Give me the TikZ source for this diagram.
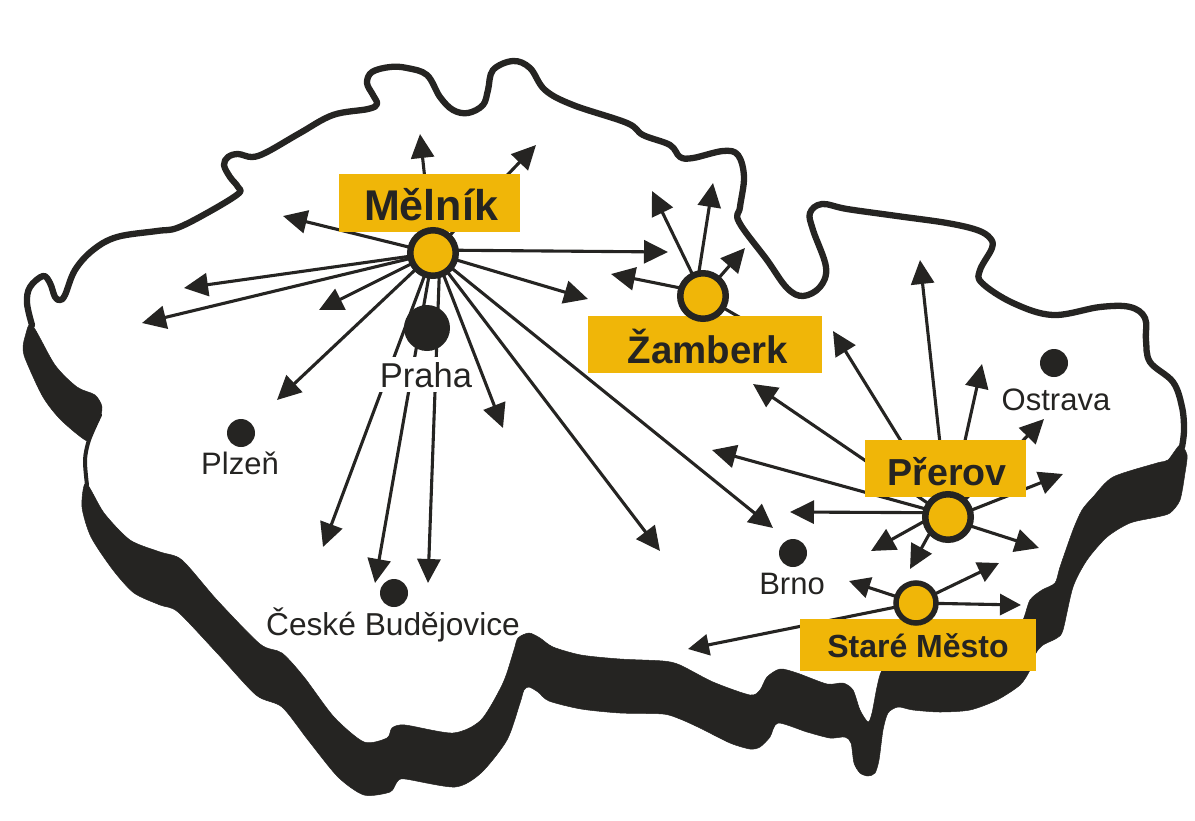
\documentclass[tikz,border=0pt]{standalone}
\usepackage{fontspec}
\setmainfont{Liberation Sans}
\usetikzlibrary{arrows.meta}
\definecolor{ink}{HTML}{252422}
\definecolor{gold}{HTML}{F0B608}
\pgfdeclarelayer{lo}
\pgfdeclarelayer{mid}
\pgfsetlayers{lo,mid,main}
\tikzset{
  lobe/.style={fill=ink,draw=ink,line width=0.5pt,line join=round},
  border/.style={draw=ink,line width=6.3pt,line join=round,line cap=round},
  arw/.style={draw=ink,line width=3.1pt,-{Triangle[length=24pt,width=23pt,color=ink]}},
  arws/.style={draw=ink,line width=3.1pt,-{Triangle[length=21pt,width=21pt,color=ink]}},
  hub/.style={circle,draw=ink,fill=gold,line width=6.5pt,minimum size=45.5pt,inner sep=0pt,outer sep=0pt},
  hubs/.style={circle,draw=ink,fill=gold,line width=5.5pt,minimum size=40pt,inner sep=0pt,outer sep=0pt},
  city/.style={circle,fill=ink,minimum size=28pt,inner sep=0pt},
  lab/.style={anchor=base,text=ink,inner sep=0pt,font=\fontsize{31}{36}\selectfont},
  plate/.style={fill=gold,draw=none,inner sep=0pt,anchor=north west},
  plab/.style={anchor=base,text=ink,inner sep=0pt,font=\bfseries\fontsize{#1}{#1}\selectfont}
}
\begin{document}
\begin{tikzpicture}[x=1pt,y=-1pt]
\useasboundingbox (0,0) rectangle (1195,820);
% shadow
\begin{pgfonlayer}{lo}
\path[lobe] plot[smooth cycle,tension=0.5] coordinates {
 (32,325)(55,365)(77,387)(95,395)(102,407)(99,420)(92,432)(87,441)(61,420)(43,397)(27,363)(23,350)(25,337)};
\path[lobe] plot[smooth cycle,tension=0.45] coordinates {
 (86,483)(104,513)(130,540)(160,552)(182,560)(217,600)(260,644)(282,653)(304,677)(334,717)(364,742)(387,738)(392,728)(405,725)(453,733)(481,720)(503,683)(514,650)(518,638)(529,633)(540,638)(553,647)(581,655)(620,659)(663,661)(680,665)(713,682)(750,695)(760,690)(767,677)(780,669)(797,673)(827,684)(843,683)(853,690)(860,710)(868,722)(872,713)(877,687)(882,670)(900,640)(1010,640)(1023,620)(1030,600)(1042,590)(1055,583)(1060,567)(1073,530)(1082,510)(1093,497)(1113,477)(1157,463)(1168,460)(1180,445)(1187,455)(1185,473)(1180,500)(1170,513)(1157,517)(1130,523)(1107,537)(1087,560)(1073,587)(1063,630)(1057,638)(1043,645)(1036,653)(1030,670)(1020,685)(997,700)(970,710)(940,712)(913,710)(898,707)(888,713)(883,730)(879,760)(875,773)(868,776)(860,773)(854,763)(851,743)(845,737)(830,738)(807,732)(778,723)(770,737)(760,747)(750,749)(730,743)(700,728)(680,719)(663,714)(620,713)(581,709)(549,701)(538,692)(529,687)(524,690)(520,703)(507,740)(481,773)(455,787)(405,779)(397,782)(390,792)(364,795)(338,777)(308,740)(282,707)(256,695)(217,653)(178,612)(160,605)(134,593)(113,570)(91,537)(82,507)};
% outline
\path[border,line width=4pt] plot[smooth,tension=0.5] coordinates {
 (100,415)(89,440)(85,460)(87,485)};
\path[border] plot[smooth,tension=0.6] coordinates {
 (32,325)(27,303)(30,287)(43,276)(50,283)(55,297)(60,300)(65,295)(75,270)(93,250)(117,237)(157,231)(177,228)(207,213)(238,194)(238,187)(230,177)(224,165)(228,157)(238,154)(252,157)(267,152)(300,133)(333,115)(368,109)(377,104)(373,95)(367,83)(372,72)(390,67)(407,68)(427,75)(440,97)(453,110)(468,113)(483,105)(488,90)(493,70)(513,61)(530,68)(545,90)(573,105)(627,123)(643,135)(670,145)(680,157)(693,158)(723,151)(738,155)(744,177)(740,207)(739,222)(767,260)(787,288)(803,296)(820,287)(826,267)(813,230)(810,213)(822,204)(847,209)(897,216)(947,223)(977,230)(990,238)(992,248)(980,270)(982,283)(1013,303)(1053,315)(1100,307)(1130,307)(1145,318)(1146,340)(1150,362)(1173,382)(1182,407)(1184,430)(1182,447)};
\end{pgfonlayer}
% hubs
\node[hub] (melnik) at (433,253) {};
\node[hub] (zamberk) at (703,296) {};
\node[hub] (prerov) at (948,517) {};
\node[hubs] (stare) at (916,603) {};
% free ends
\foreach \n/\p in {m1/{420,134},m2/{536,145},m3/{668,252},m4/{588,299},m5/{283,216},m6/{184,288},m7/{142,323},m8/{319,310},m9/{277,400},m10/{323,547},m11/{375,583},m12/{428,583},m13/{503,428},m14/{660,551},m15/{773,528},
 z1/{652,191},z2/{713,183},z3/{745,248},z4/{611,274},z5/{770,335},
 p1/{833,331},p2/{920,260},p3/{982,364},p4/{1044,419},p5/{1063,474},p6/{753,384},p7/{712,450},p8/{790,512},p9/{871,551},p10/{910,569},p11/{1039,548},
 s1/{999,563},s2/{1021,605},s3/{849,581},s4/{688,649}}
 {\coordinate (\n) at (\p);}
\begin{pgfonlayer}{lo}
\foreach \t in {m1,m2,m4,m5,m6,m7,m8,m9,m10,m11,m14,m15}
  \draw[arw] (melnik) -- (\t);
\draw[arw] (melnik.7) -- (m3);
\draw[arw] (melnik.286) -- (m12);
\draw[arw] (melnik.296) -- (m13);
\foreach \t in {z1,z3}
  \draw[arw] (zamberk) -- (\t);
\draw[arw] (zamberk.101) -- (z2);
\draw[arw] (zamberk.160) -- (z4);
\draw[draw=ink,line width=3.1pt] (zamberk) -- (z5);
\foreach \t in {p1,p2,p3,p4,p6}
  \draw[arw] (prerov) -- (\t);
\draw[arw] (prerov.16) -- (p5);
\draw[arw] (prerov.160) -- (p7);
\draw[arw] (prerov.169) -- (p8);
\draw[arw] (prerov.189) -- (p9);
\draw[arw] (prerov.220) -- (p10);
\draw[arw] (prerov.338) -- (p11);
\foreach \t in {s1,s2,s3,s4}
  \draw[arws] (stare) -- (\t);
\end{pgfonlayer}
\begin{pgfonlayer}{mid}
\node[plate,minimum width=181pt,minimum height=58pt] (mbox) at (339,174) {};
\node[plate,minimum width=234pt,minimum height=57pt] (zbox) at (588,316) {};
\node[plate,minimum width=161pt,minimum height=57pt] (pbox) at (865,440) {};
\node[plate,minimum width=236pt,minimum height=52pt] (sbox) at (800,619) {};
\node[fill=white,draw=none,minimum width=96pt,minimum height=35pt,inner sep=0pt] (pwhite) at (426,374.5) {};
\end{pgfonlayer}
\node[plab=43] (tm) at (431,220) {Mělník};
\node[plab=38.4] (tz) at (708,363) {Žamberk};
\node[plab=37.6] (tp) at (947,485) {Přerov};
\node[plab=32] (ts) at (918,657) {Staré Město};
% cities
\node[city,minimum size=46pt] (praha) at (427,328) {};
\node[city] (ostrava) at (1054,363) {};
\node[city] (plzen) at (241,433) {};
\node[city] (brno) at (793,553) {};
\node[city] (cb) at (394,593) {};
\node[lab,font=\fontsize{34.5}{36}\selectfont] (tpraha) at (426,387) {Praha};
\node[lab] (tostrava) at (1056,410) {Ostrava};
\node[lab] (tplzen) at (240,474) {Plzeň};
\node[lab] (tbrno) at (792,594) {Brno};
\node[lab,font=\fontsize{31.7}{36}\selectfont] (tcb) at (393,635) {České Budějovice};
\end{tikzpicture}
\end{document}
